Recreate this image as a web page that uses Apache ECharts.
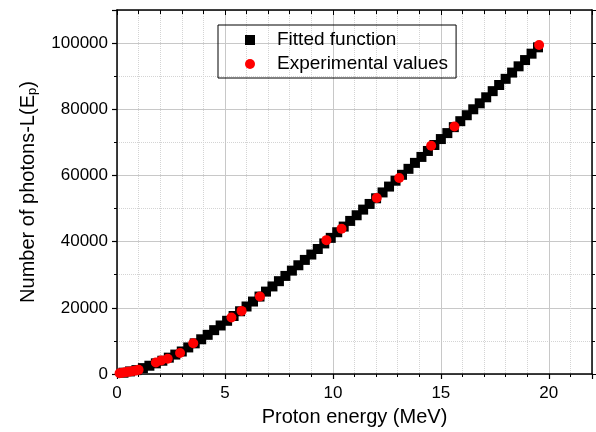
<!DOCTYPE html>
<html>
<head>
<meta charset="utf-8">
<script src="https://cdn.jsdelivr.net/npm/echarts@6/dist/echarts.min.js"></script>
<style>
  html, body { margin: 0; padding: 0; background: #fff; }
  #chart { width: 596px; height: 432px; }
</style>
</head>
<body>
<div id="chart"></div>
<script>
// proton energy (MeV) for the fitted curve markers
var fitEnergy = [0.3, 0.6, 0.9, 1.2, 1.5, 1.8, 2.1, 2.4, 2.7, 3.0,
  3.3, 3.6, 3.9, 4.2, 4.5, 4.8, 5.1, 5.4, 5.7, 6.0,
  6.3, 6.6, 6.9, 7.2, 7.5, 7.8, 8.1, 8.4, 8.7, 9.0,
  9.3, 9.6, 9.9, 10.2, 10.5, 10.8, 11.1, 11.4, 11.7, 12.0,
  12.3, 12.6, 12.9, 13.2, 13.5, 13.8, 14.1, 14.4, 14.7, 15.0,
  15.3, 15.6, 15.9, 16.2, 16.5, 16.8, 17.1, 17.4, 17.7, 18.0,
  18.3, 18.6, 18.9, 19.2, 19.5];
var fitPhotons = [390, 780, 1170, 1780, 2500, 3220, 4010, 4940, 5870, 6800,
  8030, 9260, 10490, 11840, 13250, 14660, 16080, 17520, 18960, 20400,
  21900, 23400, 24900, 26460, 28050, 29640, 31240, 32860, 34480, 36100,
  37780, 39460, 41140, 42840, 44550, 46260, 47970, 49680, 51390, 53100,
  54870, 56640, 58410, 60200, 62000, 63800, 65600, 67400, 69200, 71000,
  72800, 74600, 76400, 78200, 80000, 81800, 83620, 85480, 87340, 89200,
  91090, 92980, 94870, 96800, 98720];

// experimental points
var expEnergy = [0.12, 0.25, 0.38, 0.5, 0.62, 0.75, 0.88, 1.0,
  1.8, 2.05, 2.35, 2.92, 3.53, 5.3, 5.77, 6.62,
  9.7, 10.4, 12.03, 13.07, 14.55, 15.63, 19.55];
var expPhotons = [250, 400, 520, 650, 780, 930, 1080, 1250,
  3450, 4100, 4600, 6350, 9300, 17070, 19070, 23400,
  40450, 43900, 53200, 59250, 69000, 74800, 99400];

var xTicks = [0, 5, 10, 15, 20];
var yTicks = [0, 20000, 40000, 60000, 80000, 100000];

function pairs(xs, ys) {
  return xs.map(function (x, i) { return [x, ys[i]]; });
}

var font = 'Liberation Sans, Arial, sans-serif';

var chart = echarts.init(document.getElementById('chart'));

var option = {
  animation: false,
  backgroundColor: '#fff',
  textStyle: { fontFamily: font },
  grid: { left: 117, right: 4, top: 10, bottom: 57 },
  legend: {
    left: 218,
    top: 25,
    orient: 'vertical',
    borderColor: '#000',
    borderWidth: 1,
    padding: [4, 8, 3, 27],
    itemGap: 2,
    itemWidth: 10,
    itemHeight: 10,
    textStyle: { fontFamily: font, fontSize: 19, color: '#000', padding: [0, 0, 0, 17], lineHeight: 22 },
    data: [
      { name: 'Fitted function', icon: 'rect' },
      { name: 'Experimental values', icon: 'circle' }
    ]
  },
  xAxis: [{
    type: 'value',
    min: 0,
    max: 22,
    interval: 5,
    name: 'Proton energy (MeV)',
    nameLocation: 'middle',
    nameGap: 33,
    nameTextStyle: { fontSize: 20, color: '#000', fontFamily: font },
    axisLine: { onZero: false, lineStyle: { color: '#000', width: 1.5 } },
    axisTick: { inside: false, length: 5, lineStyle: { color: '#000', width: 1.2 } },
    minorTick: { show: true, splitNumber: 5, length: 3, lineStyle: { color: '#000' } },
    axisLabel: {
      fontSize: 17, color: '#000', margin: 11, fontFamily: font,
      formatter: function (v) { return xTicks.indexOf(v) >= 0 ? String(v) : ''; }
    },
    splitLine: { show: true, lineStyle: { color: '#c8c8c8', width: 1 } },
    minorSplitLine: { show: true, lineStyle: { color: '#d4d4d4', type: 'dotted', width: 1 } }
  }, {
    type: 'value',
    position: 'top',
    min: 0,
    max: 22,
    interval: 5,
    axisLine: { show: true, onZero: false, lineStyle: { color: '#000', width: 1.5 } },
    axisTick: { inside: true, length: 5, lineStyle: { color: '#000' } },
    minorTick: { show: true, splitNumber: 5, length: 4, lineStyle: { color: '#000' } },
    axisLabel: { show: false },
    splitLine: { show: false }
  }],
  yAxis: [{
    type: 'value',
    min: 0,
    max: 110000,
    interval: 20000,
    name: '{a|Number of photons-L(E}{sub|p}{a|)}',
    nameLocation: 'middle',
    nameGap: 78,
    nameTextStyle: {
      color: '#000', fontFamily: font,
      rich: {
        a: { fontSize: 20, color: '#000', fontFamily: font },
        sub: { fontSize: 13, color: '#000', fontFamily: font, padding: [9, 0, 0, 0] }
      }
    },
    axisLine: { onZero: false, lineStyle: { color: '#000', width: 1.5 } },
    axisTick: { inside: false, length: 5, lineStyle: { color: '#000', width: 1.2 } },
    minorTick: { show: true, splitNumber: 2, length: 3, lineStyle: { color: '#000' } },
    axisLabel: {
      fontSize: 17, color: '#000', margin: 9, fontFamily: font,
      formatter: function (v) { return yTicks.indexOf(v) >= 0 ? String(v) : ''; }
    },
    splitLine: { show: true, lineStyle: { color: '#c8c8c8', width: 1 } },
    minorSplitLine: { show: true, lineStyle: { color: '#d4d4d4', type: 'dotted', width: 1 } }
  }, {
    type: 'value',
    position: 'right',
    min: 0,
    max: 110000,
    interval: 20000,
    axisLine: { show: true, onZero: false, lineStyle: { color: '#000', width: 1.5 } },
    axisTick: { show: true, inside: false, length: 5, lineStyle: { color: '#000' } },
    minorTick: { show: true, splitNumber: 2, length: 3, lineStyle: { color: '#000' } },
    axisLabel: { show: false },
    splitLine: { show: false }
  }],
  series: [{
    name: 'Fitted function',
    type: 'scatter',
    symbol: 'rect',
    symbolSize: 10,
    itemStyle: { color: '#000', opacity: 1 },
    emphasis: { disabled: true },
    data: pairs(fitEnergy, fitPhotons)
  }, {
    name: 'Experimental values',
    type: 'scatter',
    symbol: 'circle',
    symbolSize: 10,
    itemStyle: { color: '#ff0000', opacity: 1 },
    emphasis: { disabled: true },
    data: pairs(expEnergy, expPhotons)
  }]
};

chart.setOption(option);
</script>
</body>
</html>
